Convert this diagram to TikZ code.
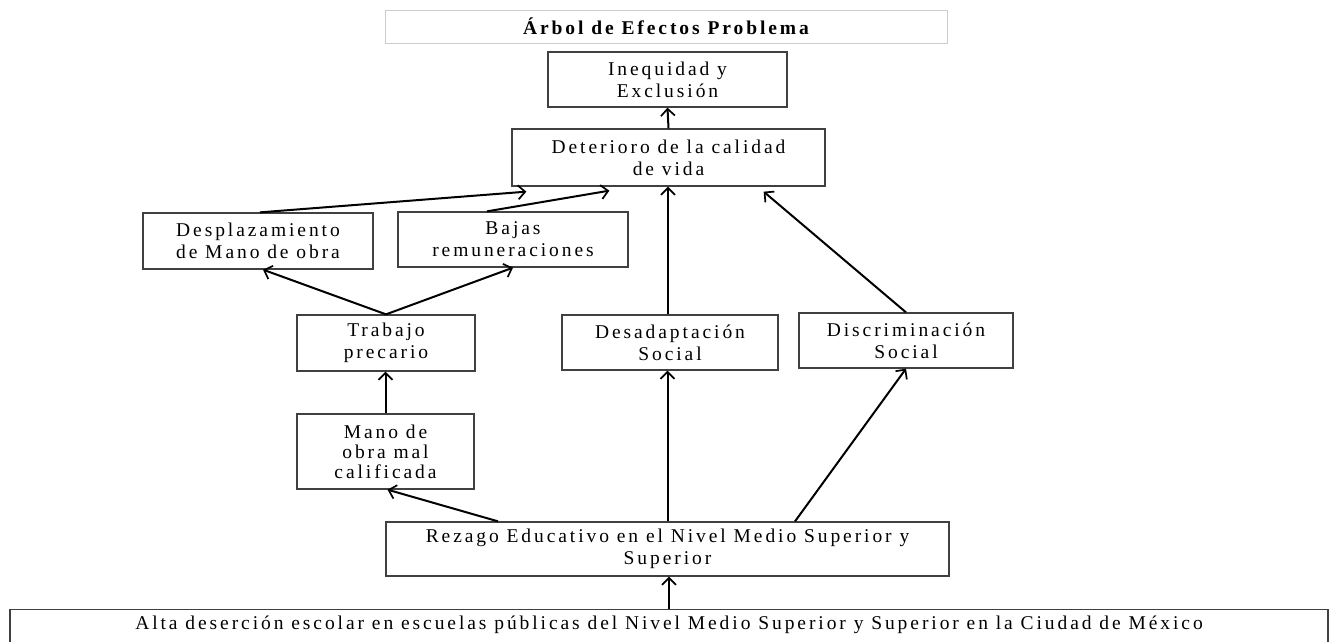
\documentclass[tikz,border=0pt]{standalone}
\usepackage{fontspec}
\setmainfont{Liberation Serif}[LetterSpace=15]
\usetikzlibrary{arrows.meta}

\tikzset{
  efecto/.style={draw=black!75, line width=1.3pt, align=center, inner sep=0pt,
    font=\fontsize{19.5}{22}\selectfont},
  flecha/.style={line width=2pt, -{Straight Barb[length=7pt,width=14pt,line width=1.7pt]}},
}

\begin{document}
\begin{tikzpicture}[x=1pt,y=-1pt]
	\useasboundingbox (0,0) rectangle (1330,641);
	\node[efecto, draw=black!20, line width=1pt, font=\bfseries\fontsize{19.5}{22}\selectfont,
	  minimum width=562pt, minimum height=33pt] (titulo) at (666,26.5) {Árbol de Efectos Problema};
	\node[efecto, minimum width=239pt, minimum height=55pt] (ineq) at (667.5,79.5) {Inequidad y\\Exclusión};
	\node[efecto, minimum width=313pt, minimum height=57pt] (det) at (668.5,157.5) {Deterioro de la calidad\\de vida};
	\node[efecto, minimum width=230pt, minimum height=56pt] (desp) at (258,241) {Desplazamiento\\de Mano de obra};
	\node[efecto, minimum width=230pt, minimum height=55pt] (bajas) at (513,239.5) {Bajas\\remuneraciones};
	\node[efecto, minimum width=178pt, minimum height=56pt] (trab) at (386,343) {Trabajo\\precario};
	\node[efecto, minimum width=216pt, minimum height=55pt] (desad) at (670,342.5) {Desadaptación\\Social};
	\node[efecto, minimum width=214pt, minimum height=55pt] (discr) at (906,340.5) {Discriminación\\Social};
	\node[efecto, minimum width=177pt, minimum height=75pt, font=\fontsize{19.5}{20}\selectfont] (mano) at (385.5,451.5) {Mano de\\obra mal\\calificada};
	\node[efecto, minimum width=563pt, minimum height=54pt] (rezago) at (667.5,549) {Rezago Educativo en el Nivel Medio Superior y\\Superior};
	\node[efecto, anchor=north, minimum width=1318pt, text height=16pt, text depth=30pt, inner ysep=4pt] (alta) at (669,609)
	  {Alta deserción escolar en escuelas públicas del Nivel Medio Superior y Superior en la Ciudad de México};

	% flechas de causa a efecto
	\draw[flecha] (det.north) -- (ineq.south);
	\draw[flecha] ([xshift=2pt]desp.north) -- ([xshift=15pt,yshift=-5pt]det.south west);
	\draw[flecha] ([xshift=-26pt]bajas.north) -- ([xshift=98pt,yshift=-4pt]det.south west);
	\draw[flecha] ([xshift=-2pt]desad.north) -- ([xshift=-2pt]desad.north |- det.south);
	\draw[flecha] (discr.north) -- ([xshift=-62pt,yshift=-5pt]det.south east);
	\draw[flecha] (trab.north) -- ([xshift=5pt]desp.south);
	\draw[flecha] (trab.north) -- (bajas.south);
	\draw[flecha] (mano.north) -- (mano.north |- trab.south);
	\draw[flecha] ([xshift=-169.5pt]rezago.north) -- ([xshift=2pt]mano.south);
	\draw[flecha] (rezago.north) -- (rezago.north |- desad.south);
	\draw[flecha] ([xshift=127.5pt]rezago.north) -- (discr.south);
	\draw[flecha] (alta.north) -- (alta.north |- rezago.south);
\end{tikzpicture}
\end{document}
